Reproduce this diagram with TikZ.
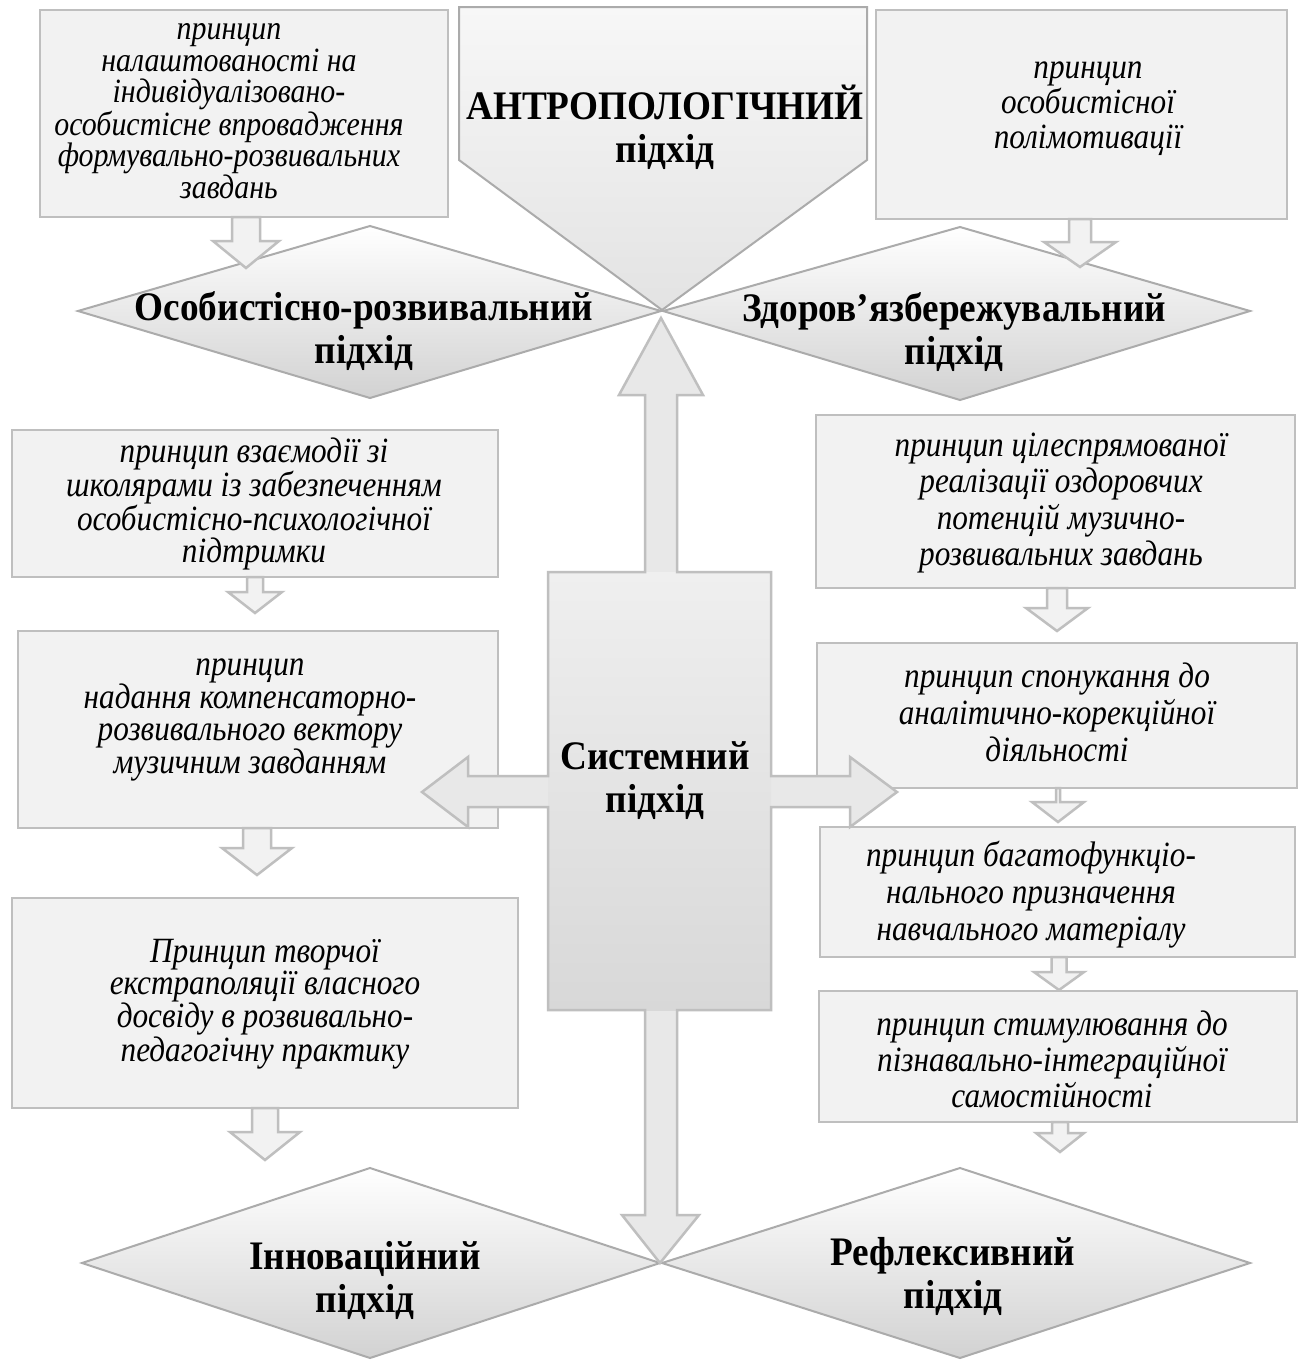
\documentclass[tikz,border=0pt]{standalone}
\usepackage{fontspec}
\setmainfont{Liberation Serif}
\newfontfamily\itfam{Liberation Serif}[FakeStretch=0.88]
\newfontfamily\bffam{Liberation Serif}[FakeStretch=0.92]
\definecolor{boxfill}{HTML}{F2F2F2}
\definecolor{boxline}{HTML}{BFBFBF}
\definecolor{shapeline}{HTML}{ABABAB}
\definecolor{diabot}{HTML}{D2D2D2}
\definecolor{pentatop}{HTML}{F7F7F7}
\definecolor{pentabot}{HTML}{E3E3E3}
\definecolor{recttop}{HTML}{EFEFEF}
\definecolor{rectbot}{HTML}{D8D8D8}
\definecolor{arrfill}{HTML}{E8E8E8}
\newcommand\itf[2]{\itfam\fontsize{#1}{#2}\selectfont\itshape}
\newcommand\bff{\bffam\fontsize{40.5}{43}\selectfont\bfseries}
\newcommand\blkdown[6]{%
  \draw[blockarr] (#1-#4,#2) -- (#1+#4,#2) -- (#1+#4,#6) -- (#1+#5,#6) -- (#1,#3) -- (#1-#5,#6) -- (#1-#4,#6) -- cycle;}
\tikzset{
  box/.style={draw=boxline, fill=boxfill, line width=2.5pt, inner sep=0pt},
  itxt/.style={align=center, inner sep=0pt},
  btxt/.style={align=center, inner sep=0pt, font=\bff},
  dia/.style={draw=shapeline, line width=2pt, top color=white, bottom color=diabot},
  penta/.style={draw=shapeline, line width=2pt, top color=pentatop, bottom color=pentabot},
  blockarr/.style={draw=boxline, line width=2.5pt, fill=boxfill, line join=miter},
  crossfill/.style={fill=arrfill},
  rectfill/.style={top color=recttop, bottom color=rectbot},
  crossline/.style={draw=boxline, line width=2.5pt, line join=miter}
}
\begin{document}
\begin{tikzpicture}[x=1pt,y=-1pt]
\useasboundingbox (0,0) rectangle (1308,1360);
\fill[white] (0,0) rectangle (1308,1360);

% boxes
\node[box, minimum width=408pt, minimum height=207pt] (tl) at (244,113.5) {};
\node[box, minimum width=411pt, minimum height=209pt] (tr) at (1081.5,114.5) {};
\node[box, minimum width=486pt, minimum height=147pt] (l1) at (255,503.5) {};
\node[box, minimum width=480pt, minimum height=197pt] (l2) at (258,729.5) {};
\node[box, minimum width=506pt, minimum height=210pt] (l3) at (265,1003) {};
\node[box, minimum width=479pt, minimum height=173pt] (r1) at (1055.5,501.5) {};
\node[box, minimum width=480pt, minimum height=145pt] (r2) at (1057,715.5) {};
\node[box, minimum width=475pt, minimum height=130pt] (r3) at (1057.5,892) {};
\node[box, minimum width=478pt, minimum height=131pt] (r4) at (1058,1056.5) {};

% diamonds
\draw[dia] (78,311) -- (370,226) -- (661,311) -- (370,398) -- cycle;
\draw[dia] (663,311) -- (960,227) -- (1250,311) -- (960,400) -- cycle;
\draw[dia] (82,1263) -- (370,1168) -- (660,1263) -- (370,1358) -- cycle;
\draw[dia] (662,1263) -- (960,1168) -- (1250,1263) -- (960,1358) -- cycle;

% pentagon
\draw[penta] (459,7) -- (867,7) -- (867,160) -- (662,310) -- (459,160) -- cycle;

% small block arrows
\blkdown{246}{217}{268}{14}{33}{241}
\blkdown{1080}{219}{267}{11}{36}{242}
\blkdown{255}{577}{613}{8}{27}{592}
\blkdown{257}{828}{875}{14}{35}{848}
\blkdown{265}{1108}{1160}{13}{35}{1132}
\blkdown{1057}{588}{631}{10}{31}{608}
\blkdown{1058}{788}{822}{2}{26}{802}
\blkdown{1059}{957}{990}{7.5}{25}{972}
\blkdown{1060}{1122}{1152}{8}{24}{1133}

% central cross
\def\crosspath{(661,318) -- (703,395) -- (677,395) -- (677,572) -- (771,572) -- (771,776) -- (850,776) -- (850,757) -- (897,792) -- (850,827) -- (850,807) -- (771,807) -- (771,1010) -- (677,1010) -- (677,1215) -- (699,1215) -- (660,1263) -- (622,1215) -- (645,1215) -- (645,1010) -- (548,1010) -- (548,807) -- (468,807) -- (468,827) -- (422,792) -- (468,757) -- (468,776) -- (548,776) -- (548,572) -- (645,572) -- (645,395) -- (619,395) -- cycle}
\path[crossfill] \crosspath;
\path[rectfill] (548,572) rectangle (771,1010);
\path[crossline] \crosspath;

% texts
\node[itxt, font=\itf{34}{31.5}] (tlt) at (229,111) {принцип\\налаштованості на\\індивідуалізовано-\\особистісне впровадження\\формувально-розвивальних\\завдань};
\node[itxt, font=\itf{35.5}{35}] (trt) at (1088,109) {принцип\\особистісної\\полімотивації};
\node[itxt, font=\itf{35.5}{32}] (l1t) at (254,504) {принцип взаємодії зі\\школярами із забезпеченням\\особистісно-психологічної\\підтримки};
\node[itxt, font=\itf{35.5}{32}] (l2t) at (250,720) {принцип\\надання компенсаторно-\\розвивального вектору\\музичним завданням};
\node[itxt, font=\itf{35.5}{32}] (l3t) at (265,1004) {Принцип творчої\\екстраполяції власного\\досвіду в розвивально-\\педагогічну практику};
\node[itxt, font=\itf{35.5}{36.5}] (r1t) at (1061,503) {принцип цілеспрямованої\\реалізації оздоровчих\\потенцій музично-\\розвивальних завдань};
\node[itxt, font=\itf{35.5}{37}] (r2t) at (1057,712) {принцип спонукання до\\аналітично-корекційної\\діяльності};
\node[itxt, font=\itf{35.5}{37}] (r3t) at (1031,895) {принцип багатофункціо-\\нального призначення\\навчального матеріалу};
\node[itxt, font=\itf{35.5}{36}] (r4t) at (1052,1059) {принцип стимулювання до\\пізнавально-інтеграційної\\самостійності};

\node[btxt] (pt) at (665,127) {АНТРОПОЛОГІЧНИЙ\\підхід};
\node[btxt] (ldt) at (364,331) {Особистісно-розвивальний\\підхід};
\node[btxt] (rdt) at (954,332) {Здоров’язбережувальний\\підхід};
\node[btxt] (ct) at (655,781) {Системний\\підхід};
\node[btxt] (blt) at (365,1280) {Інноваційний\\підхід};
\node[btxt] (brt) at (953,1276) {Рефлексивний\\підхід};
\end{tikzpicture}
\end{document}
